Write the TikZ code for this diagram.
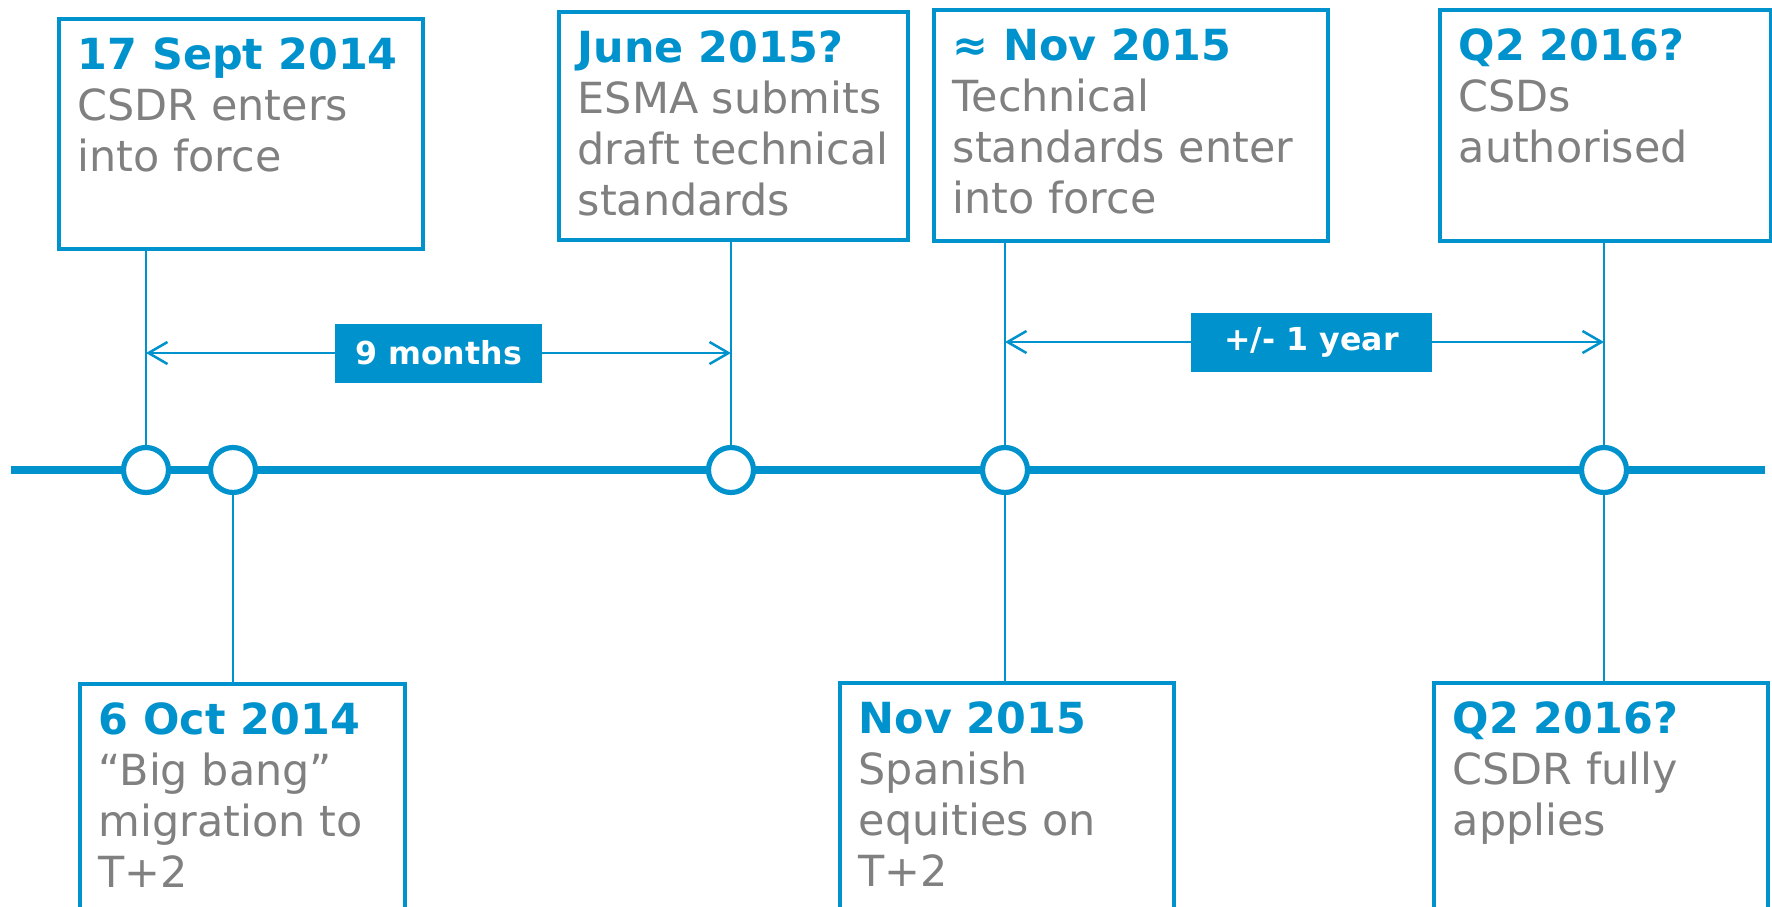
\documentclass[tikz,border=0pt]{standalone}
\usepackage{fontspec}
\setmainfont{DejaVu Sans}
\usepackage{tikz}
\usetikzlibrary{arrows.meta, positioning}
\definecolor{csdrblue}{RGB}{0,146,204}
\definecolor{csdrgrey}{RGB}{128,128,128}
\newcommand{\evdate}[1]{{\color{csdrblue}\bfseries\strut #1}}

\begin{document}
\begin{tikzpicture}[
  evbox/.style={draw=csdrblue, line width=0.038cm, anchor=north west, inner sep=0pt},
  evtext/.style={inner sep=0pt, align=left, text=csdrgrey, font=\fontsize{12.2}{14.5}\selectfont},
  dot/.style={circle, draw=csdrblue, fill=white, line width=0.052cm, minimum size=0.45cm, inner sep=0pt},
  conn/.style={csdrblue, line width=0.026cm},
  span/.style={csdrblue, line width=0.025cm, {Straight Barb[length=1.9mm,width=2.2mm]}-{Straight Barb[length=1.9mm,width=2.2mm]}},
  spanlabel/.style={fill=csdrblue, text=white, font=\fontsize{9}{11}\selectfont\bfseries, minimum height=0.59cm, inner xsep=0.2cm}
]
  \clip (0,0) rectangle (17.72,-9.06);

  % Time axis
  \coordinate (tstart) at (0.11,-4.70);
  \coordinate (tend) at (17.65,-4.70);
  \draw[csdrblue, line width=0.075cm] (tstart) -- (tend);

  % Milestones on the axis
  \foreach \x/\n in {1.46/c1, 2.33/c2, 7.31/c3, 10.05/c4, 16.04/c5}
    {\node[dot] (\n) at (\x,-4.70) {};}

  % Events above the axis
  \node[evbox, minimum width=3.64cm, minimum height=2.30cm] (sept14) at (0.57,-0.17) {};
  \node[evtext, below right=0.16cm and 0.20cm of sept14.north west] (sept14txt)
    {\evdate{17 Sept 2014}\\ CSDR enters\\ into force};
  \node[evbox, minimum width=3.49cm, minimum height=2.28cm] (jun15) at (5.57,-0.10) {};
  \node[evtext, below right=0.16cm and 0.20cm of jun15.north west] (jun15txt)
    {\evdate{June 2015?}\\ ESMA submits\\ draft technical\\ standards};
  \node[evbox, minimum width=3.94cm, minimum height=2.31cm] (nov15) at (9.32,-0.08) {};
  \node[evtext, below right=0.16cm and 0.20cm of nov15.north west] (nov15txt)
    {\evdate{≈ Nov 2015}\\ Technical\\ standards enter\\ into force};
  \node[evbox, minimum width=3.31cm, minimum height=2.31cm] (q216) at (14.38,-0.08) {};
  \node[evtext, below right=0.16cm and 0.20cm of q216.north west] (q216txt)
    {\evdate{Q2 2016?}\\ CSDs\\ authorised};

  % Events below the axis (boxes run off the bottom edge)
  \node[evbox, minimum width=3.25cm, minimum height=2.60cm] (oct14) at (0.78,-6.82) {};
  \node[evtext, below right=0.16cm and 0.20cm of oct14.north west] (oct14txt)
    {\evdate{6 Oct 2014}\\ “Big bang”\\ migration to\\ T+2};
  \node[evbox, minimum width=3.34cm, minimum height=2.60cm] (spain) at (8.38,-6.81) {};
  \node[evtext, below right=0.16cm and 0.20cm of spain.north west] (spaintxt)
    {\evdate{Nov 2015}\\ Spanish\\ equities on\\ T+2};
  \node[evbox, minimum width=3.34cm, minimum height=2.60cm] (apply) at (14.32,-6.81) {};
  \node[evtext, below right=0.16cm and 0.20cm of apply.north west] (applytxt)
    {\evdate{Q2 2016?}\\ CSDR fully\\ applies};

  % Drop lines from the boxes to the axis
  \draw[conn] (c1) -- (c1 |- sept14.south);
  \draw[conn] (c3) -- (c3 |- jun15.south);
  \draw[conn] (c4) -- (c4 |- nov15.south);
  \draw[conn] (c5) -- (c5 |- q216.south);
  \draw[conn] (c2) -- (c2 |- oct14.north);
  \draw[conn] (c4) -- (c4 |- spain.north);
  \draw[conn] (c5) -- (c5 |- apply.north);

  % Durations
  \draw[span] (c1 |- 0,-3.53) -- node[spanlabel] (ninem) {9 months} (c3 |- 0,-3.53);
  \draw[span] (c4 |- 0,-3.42) -- node[spanlabel, minimum width=2.41cm, xshift=0.07cm] (oneyr) {+/- 1 year} (c5 |- 0,-3.42);
\end{tikzpicture}
\end{document}
